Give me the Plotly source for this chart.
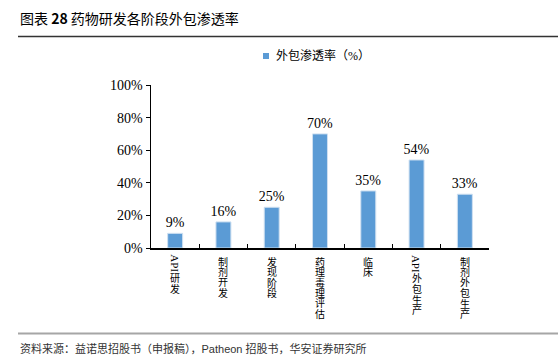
import plotly.graph_objects as go

categories = ["API研发", "制剂开发", "发现阶段", "药理毒理评估", "临床", "API外包生产", "制剂外包生产"]
values = [9, 16, 25, 70, 35, 54, 33]
value_labels = ["9%", "16%", "25%", "70%", "35%", "54%", "33%"]
y_ticks = [0, 20, 40, 60, 80, 100]
y_tick_labels = ["0%", "20%", "40%", "60%", "80%", "100%"]
series_name = "外包渗透率（%）"
title_text = "图表 <b>28</b> 药物研发各阶段外包渗透率"
source_text = "资料来源：益诺思招股书（申报稿），Patheon 招股书，华安证券研究所"

SERIF = "Liberation Serif, Noto Sans CJK SC, serif"
BLUE = "#5B9BD5"

W, H = 558, 364
L, R, T, B = 151, 69, 85, 116


def px_to_paper_x(px):
    return (px - L) / (W - L - R)


def px_to_paper_y(py):
    return (H - B - py) / (H - T - B)


fig = go.Figure()
fig.add_trace(go.Bar(
    x=categories, y=values, name=series_name,
    marker=dict(color=BLUE, line=dict(color="#CFE0F1", width=1)),
    text=value_labels, textposition="outside", cliponaxis=False,
    constraintext="none",
    textfont=dict(family=SERIF, size=14, color="#000"),
    showlegend=False, hoverinfo="skip",
))

annotations = []
# vertical category labels, character by character
for cat in categories:
    if cat.startswith("API"):
        annotations.append(dict(x=cat, xref="x", y=0, yref="paper", text="API",
                                textangle=90, showarrow=False, yanchor="middle",
                                yshift=-(263.5 - (H - B)),
                                font=dict(family=SERIF, size=11, color="#000")))
        rest = cat[3:]
        start = 278.5
        pitch = 10.6
    else:
        rest = cat
        start = 262
        pitch = 10.4
    for i, ch in enumerate(rest):
        annotations.append(dict(x=cat, xref="x", y=0, yref="paper", text=ch,
                                showarrow=False, yanchor="middle",
                                yshift=-(start + pitch * i - (H - B)),
                                font=dict(family=SERIF, size=10, color="#000")))

# title
annotations.append(dict(x=px_to_paper_x(18), xref="paper", y=px_to_paper_y(18), yref="paper",
                        xanchor="left", yanchor="middle", showarrow=False,
                        text=title_text,
                        font=dict(family="Noto Sans CJK SC, Liberation Sans, sans-serif",
                                  size=14, color="#000")))
# source
annotations.append(dict(x=px_to_paper_x(18), xref="paper", y=px_to_paper_y(348), yref="paper",
                        xanchor="left", yanchor="middle", showarrow=False,
                        text=source_text,
                        font=dict(family="Liberation Sans, Noto Sans CJK SC, sans-serif",
                                  size=11, color="#333")))
# legend text
annotations.append(dict(x=px_to_paper_x(274), xref="paper", y=px_to_paper_y(56), yref="paper",
                        xanchor="left", yanchor="middle", showarrow=False,
                        text=series_name,
                        font=dict(family=SERIF, size=12, color="#000")))

shapes = [
    dict(type="line", xref="paper", yref="paper",
         x0=px_to_paper_x(18), x1=px_to_paper_x(W), y0=px_to_paper_y(36.5), y1=px_to_paper_y(36.5),
         line=dict(color="#333", width=1.5)),
    dict(type="line", xref="paper", yref="paper",
         x0=px_to_paper_x(18), x1=px_to_paper_x(W), y0=px_to_paper_y(333.5), y1=px_to_paper_y(333.5),
         line=dict(color="#A6A6A6", width=2)),
    # legend swatch
    dict(type="rect", xref="paper", yref="paper",
         x0=px_to_paper_x(263), x1=px_to_paper_x(269), y0=px_to_paper_y(53), y1=px_to_paper_y(59),
         line=dict(width=0), fillcolor=BLUE),
]

fig.update_layout(
    width=W, height=H,
    margin=dict(l=L, r=R, t=T, b=B, pad=0, autoexpand=False),
    paper_bgcolor="white", plot_bgcolor="white",
    bargap=0.69,
    showlegend=False,
    hovermode=False,
    annotations=annotations,
    shapes=shapes,
    xaxis=dict(showticklabels=False, showline=True, linecolor="#000", linewidth=1.5,
               ticks="inside", tickson="boundaries", ticklen=4, tickcolor="#000",
               showgrid=False, zeroline=False, automargin=False, fixedrange=True),
    yaxis=dict(range=[0, 100], tickvals=y_ticks, ticktext=y_tick_labels,
               showline=True, linecolor="#000", linewidth=1.5,
               ticks="outside", ticklen=4, tickcolor="#000",
               showgrid=False, zeroline=False, automargin=False, fixedrange=True,
               tickfont=dict(family=SERIF, size=14, color="#000")),
)

fig.write_html(
    "out.html",
    config={"displayModeBar": False, "staticPlot": True},
    post_script="document.body.style.margin='0';document.body.style.overflow='hidden';",
)
